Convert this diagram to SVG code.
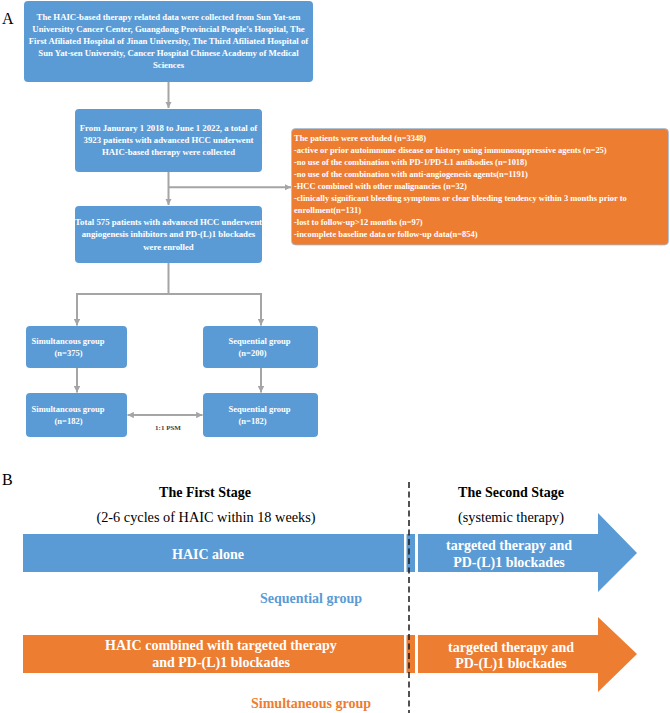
<svg xmlns="http://www.w3.org/2000/svg" width="670" height="713" viewBox="0 0 670 713">
<style>
.bg{fill:#ffffff}
.blue{fill:#5B9BD5}
.orange{fill:#ED7D31}
.tb{font-family:"Liberation Serif","Times New Roman",serif;font-weight:bold;fill:#ffffff;font-size:8.75px;text-anchor:middle}
.tl{font-family:"Liberation Serif","Times New Roman",serif;font-weight:bold;fill:#ffffff;font-size:8.45px}
.tg{font-family:"Liberation Serif","Times New Roman",serif;font-weight:bold;fill:#ffffff;font-size:8.5px;text-anchor:middle}
.panel{font-family:"Liberation Serif","Times New Roman",serif;font-size:16px;fill:#000}
.hd{font-family:"Liberation Serif","Times New Roman",serif;font-weight:bold;font-size:14px;fill:#000;text-anchor:middle}
.sub{font-family:"Liberation Serif","Times New Roman",serif;font-size:14.3px;fill:#000;text-anchor:middle}
.bt{font-family:"Liberation Serif","Times New Roman",serif;font-weight:bold;font-size:14px;fill:#ffffff;text-anchor:middle}
.gl{font-family:"Liberation Serif","Times New Roman",serif;font-weight:bold;font-size:14px;text-anchor:middle}
.conn{stroke:#A5A5A5;stroke-width:2;fill:none}
.psm{font-family:"Liberation Serif","Times New Roman",serif;font-weight:bold;font-size:7px;fill:#404040;text-anchor:middle}
</style>
<defs>
<marker id="ah" viewBox="0 0 10 10" refX="10" refY="5" markerWidth="3.2" markerHeight="3.2" orient="auto-start-reverse">
<path d="M0,0 L10,5 L0,10 z" fill="#A5A5A5"/>
</marker>
</defs>
<rect class="bg" x="0" y="0" width="670" height="713"/>
<text class="panel" x="2" y="24">A</text>

<g id="connectors">
<line class="conn" x1="168.5" y1="82" x2="168.5" y2="108" marker-end="url(#ah)"/>
<line class="conn" x1="168.5" y1="172" x2="168.5" y2="205" marker-end="url(#ah)"/>
<line class="conn" x1="168.5" y1="187.3" x2="291" y2="187.3" marker-end="url(#ah)"/>
<polyline class="conn" points="168.5,263 168.5,294"/>
<line class="conn" x1="76" y1="294" x2="262" y2="294"/>
<line class="conn" x1="77" y1="293" x2="77" y2="325.5" marker-end="url(#ah)"/>
<line class="conn" x1="261" y1="293" x2="261" y2="325.5" marker-end="url(#ah)"/>
<line class="conn" x1="77" y1="368" x2="77" y2="392.5" marker-end="url(#ah)"/>
<line class="conn" x1="261" y1="368" x2="261" y2="392.5" marker-end="url(#ah)"/>
<line class="conn" x1="127.5" y1="415" x2="202.5" y2="415" marker-start="url(#ah)" marker-end="url(#ah)"/>
<text class="psm" x="168" y="430">1:1 PSM</text>
</g>

<g id="node-sources">
<rect class="blue" x="24" y="1" width="289" height="81" rx="4"/>
<text class="tb" x="168.5" y="19.5">The HAIC-based therapy related data were collected from Sun Yat-sen</text>
<text class="tb" x="168.5" y="31.5">Universitty Cancer Center, Guangdong Provincial People’s Hospital, The</text>
<text class="tb" x="168.5" y="43.5">First Afiliated Hospital of Jinan University, The Third Afiliated Hospital of</text>
<text class="tb" x="168.5" y="55.5">Sun Yat-sen University, Cancer Hospital Chinese Academy of Medical</text>
<text class="tb" x="168.5" y="67.5">Sciences</text>
</g>

<g id="node-collected">
<rect class="blue" x="75" y="109" width="187" height="63" rx="4"/>
<text class="tb" x="168.5" y="131">From Janurary 1 2018 to June 1 2022, a total of</text>
<text class="tb" x="168.5" y="143">3923 patients with advanced HCC underwent</text>
<text class="tb" x="168.5" y="155">HAIC-based therapy were collected</text>
</g>

<g id="node-excluded">
<rect class="orange" x="291.5" y="128.5" width="377" height="116.5" rx="4" stroke="#9DC3E6" stroke-width="0.8"/>
<text class="tl" x="294" y="141">The patients were excluded (n=3348)</text>
<text class="tl" x="294" y="153">-active or prior autoimmune disease or history using immunosuppressive agents (n=25)</text>
<text class="tl" x="294" y="165">-no use of the combination with PD-1/PD-L1 antibodies (n=1018)</text>
<text class="tl" x="294" y="177">-no use of the combination with anti-angiogenesis agents(n=1191)</text>
<text class="tl" x="294" y="189">-HCC combined with other malignancies (n=32)</text>
<text class="tl" x="294" y="201">-clinically significant bleeding symptoms or clear bleeding tendency within 3 months prior to</text>
<text class="tl" x="294" y="213">enrollment(n=131)</text>
<text class="tl" x="294" y="225">-lost to follow-up&gt;12 months (n=97)</text>
<text class="tl" x="294" y="237">-incomplete baseline data or follow-up data(n=854)</text>
</g>

<g id="node-enrolled">
<rect class="blue" x="75" y="206" width="187" height="57" rx="4"/>
<text class="tb" x="168.5" y="225">Total 575 patients with advanced HCC underwent</text>
<text class="tb" x="168.5" y="237">angiogenesis inhibitors and PD-(L)1 blockades</text>
<text class="tb" x="168.5" y="249.5">were enrolled</text>
</g>

<g id="node-sim375">
<rect class="blue" x="26" y="326" width="101" height="42" rx="4"/>
<text class="tg" x="68" y="344">Simultancous group</text>
<text class="tg" x="68.5" y="356">(n=375)</text>
</g>

<g id="node-seq200">
<rect class="blue" x="203" y="326" width="115" height="42" rx="4"/>
<text class="tg" x="259.5" y="344">Sequential group</text>
<text class="tg" x="252.5" y="356">(n=200)</text>
</g>

<g id="node-sim182">
<rect class="blue" x="26" y="393" width="101" height="44" rx="4"/>
<text class="tg" x="68" y="412">Simultancous group</text>
<text class="tg" x="68.5" y="424">(n=182)</text>
</g>

<g id="node-seq182">
<rect class="blue" x="203" y="393" width="115" height="44" rx="4"/>
<text class="tg" x="259.5" y="412">Sequential group</text>
<text class="tg" x="252.5" y="424">(n=182)</text>
</g>

<text class="panel" x="2" y="485">B</text>

<g id="stage-headers">
<text class="hd" x="205" y="497">The First Stage</text>
<text class="sub" x="206" y="522">(2-6 cycles of HAIC within 18 weeks)</text>
<text class="hd" x="511" y="497">The Second Stage</text>
<text class="sub" x="511" y="522">(systemic therapy)</text>
</g>

<g id="node-seq-first">
<rect class="blue" x="23" y="534" width="381" height="38"/>
<text class="bt" x="208" y="559">HAIC alone</text>
</g>
<rect class="blue" x="406.5" y="534" width="8.5" height="38"/>
<g id="node-seq-second">
<path class="blue" d="M418,534 L598,534 L598,513 L637,553 L598,592 L598,572 L418,572 Z"/>
<text class="bt" x="509" y="550">targeted therapy and</text>
<text class="bt" x="509" y="567">PD-(L)1 blockades</text>
</g>
<text class="gl" x="311" y="603" fill="#5B9BD5">Sequential group</text>

<g id="node-sim-first">
<rect class="orange" x="23" y="635" width="381" height="38"/>
<text class="bt" x="221" y="650">HAIC combined with targeted therapy</text>
<text class="bt" x="221" y="667">and PD-(L)1 blockades</text>
</g>
<rect class="orange" x="406.5" y="635" width="8.5" height="38"/>
<g id="node-sim-second">
<path class="orange" d="M418,635 L598,635 L598,617 L637,654 L598,692 L598,673 L418,673 Z"/>
<text class="bt" x="511" y="652">targeted therapy and</text>
<text class="bt" x="511" y="668">PD-(L)1 blockades</text>
</g>
<text class="gl" x="311" y="708" fill="#ED7D31">Simultaneous group</text>

<line x1="409" y1="482" x2="409" y2="713" stroke="#1a1a1a" stroke-width="1.5" stroke-dasharray="6,3.5"/>
</svg>
